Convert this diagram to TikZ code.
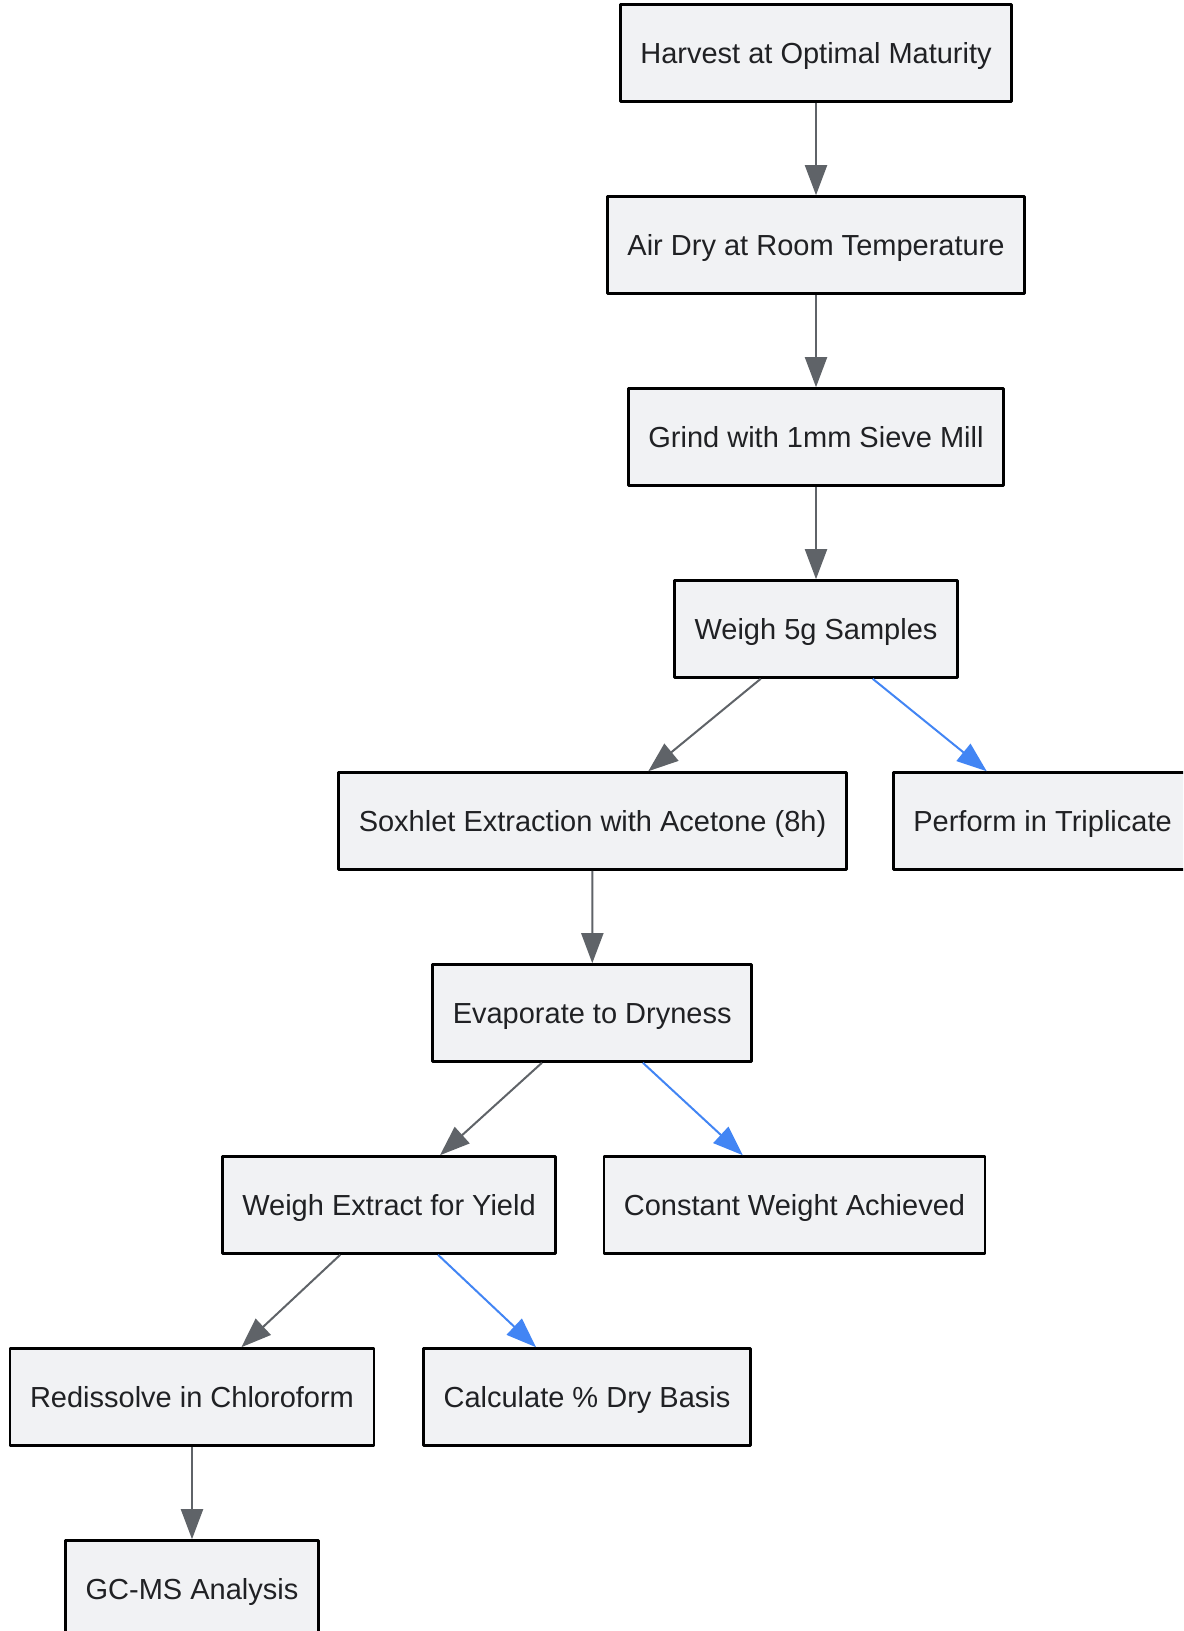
\documentclass[tikz,border=0pt]{standalone}
\usepackage{fontspec}
\setmainfont{Liberation Sans}
\usetikzlibrary{arrows.meta}
\definecolor{boxfill}{HTML}{F1F2F4}
\definecolor{edgegray}{HTML}{5F6368}
\definecolor{edgeblue}{HTML}{4285F4}
\definecolor{txtgray}{HTML}{202124}
\begin{document}
\begin{tikzpicture}[line join=round,x=0.5pt,y=-0.5pt,
		stepbox/.style={draw=black,line width=1.3pt,fill=boxfill,text=txtgray,inner xsep=10pt,text height=10.4pt,text depth=0pt,minimum height=48.5pt,font=\fontsize{14.5}{17}\selectfont},
		arr/.style={draw=edgegray,line width=1pt,-{Triangle[length=15pt,width=11pt]}},
		arrb/.style={arr,draw=edgeblue}]
				\clip (0,0) rectangle (1183,1631);
				\node[stepbox] (harvest) at (816,53) {Harvest at Optimal Maturity};
				\node[stepbox] (airdry) at (816,245) {Air Dry at Room Temperature};
				\node[stepbox] (grind) at (816,437) {Grind with 1mm Sieve Mill};
				\node[stepbox] (weigh) at (816,629) {Weigh 5g Samples};
				\node[stepbox] (soxhlet) at (592.5,821) {Soxhlet Extraction with Acetone (8h)};
				\node[stepbox] (triplicate) at (1042.5,821) {Perform in Triplicate};
				\node[stepbox] (evaporate) at (592.2,1013) {Evaporate to Dryness};
				\node[stepbox] (yield) at (389,1205) {Weigh Extract for Yield};
				\node[stepbox] (constant) at (794.5,1205) {Constant Weight Achieved};
				\node[stepbox] (redissolve) at (192,1397) {Redissolve in Chloroform};
				\node[stepbox] (drybasis) at (587,1397) {Calculate \% Dry Basis};
				\node[stepbox] (gcms) at (192,1589) {GC-MS Analysis};
				\draw[arr] (harvest) -- (airdry);
				\draw[arr] (airdry) -- (grind);
				\draw[arr] (grind) -- (weigh);
				\draw[arr] ([xshift=-27.65pt]weigh.south) -- ([xshift=27.9pt]soxhlet.north);
				\draw[arrb] ([xshift=28.35pt]weigh.south) -- ([xshift=-27.9pt]triplicate.north);
				\draw[arr] (soxhlet) -- (evaporate);
				\draw[arr] ([xshift=-25.15pt]evaporate.south) -- ([xshift=25.5pt]yield.north);
				\draw[arrb] ([xshift=25.35pt]evaporate.south) -- ([xshift=-25.85pt]constant.north);
				\draw[arr] ([xshift=-24.4pt]yield.south) -- ([xshift=24.7pt]redissolve.north);
				\draw[arrb] ([xshift=24.5pt]yield.south) -- ([xshift=-25.5pt]drybasis.north);
				\draw[arr] (redissolve) -- (gcms);
			\end{tikzpicture}
\end{document}
